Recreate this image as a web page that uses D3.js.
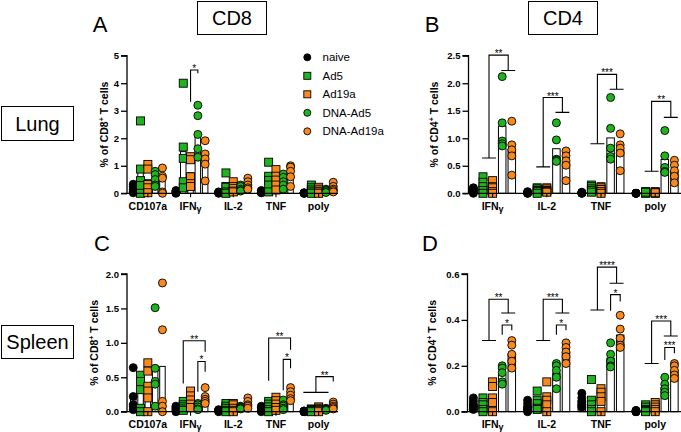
<!DOCTYPE html>
<html><head><meta charset="utf-8">
<script src="https://cdn.jsdelivr.net/npm/d3@7"></script>
<style>
body{margin:0;background:#fff;}
svg{display:block;font-family:Arial,"Liberation Sans",sans-serif;}
</style></head>
<body>
<script>
const groups = ["naive","Ad5","Ad19a","DNA-Ad5","DNA-Ad19a"];
const catsCD8 = ["CD107a","IFNγ","IL-2","TNF","poly"];
const catsCD4 = ["IFNγ","IL-2","TNF","poly"];

const ticksLungCD8 = [0,1,2,3,4,5];
const ticksLungCD4 = [0,0.5,1.0,1.5,2.0,2.5];
const ticksSpleenCD8 = [0,0.5,1.0,1.5,2.0];
const ticksSpleenCD4 = [0,0.2,0.4,0.6];

// values per category, per group (naive, Ad5, Ad19a, DNA-Ad5, DNA-Ad19a)
const lungCD8 = [
 [[0.02,0.08,0.15,0.25,0.33],[2.63,0.88,0.46,0.28,0.0],[1.05,0.88,0.32,0.2,0.02],[0.8,0.68,0.5,0.3,0.25],[0.92,0.62,0.55,0.05,0.0]],
 [[0.0,0.02,0.05,0.08,0.1],[4.0,1.68,1.27,0.42,0.2],[1.33,1.22,0.6,0.35,0.25],[3.2,2.82,2.14,1.62,1.31],[1.91,1.43,1.25,1.06,0.45]],
 [[0.0,0.02,0.03,0.05,0.04],[0.74,0.25,0.22,0.05,0.0],[0.42,0.25,0.18,0.08,0.05],[0.3,0.25,0.15,0.1,0.08],[0.55,0.42,0.3,0.2,0.15]],
 [[0.02,0.05,0.08,0.1,0.03],[1.13,0.62,0.47,0.3,0.05],[0.86,0.62,0.48,0.3,0.12],[0.7,0.58,0.42,0.3,0.15],[1.0,0.95,0.8,0.6,0.25]],
 [[0.0,0.01,0.02,0.0,0.01],[0.3,0.2,0.12,0.05,0.0],[0.22,0.15,0.08,0.05,0.0],[0.15,0.12,0.1,0.05,0.03],[0.4,0.25,0.15,0.1,0.05]]
];
const lungCD4 = [
 [[0.0,0.02,0.05,0.08,0.1],[0.3,0.2,0.12,0.05,0.0],[0.23,0.12,0.1,0.03,0.0],[2.12,1.28,0.95,0.9,0.86],[1.31,0.88,0.79,0.68,0.33]],
 [[0.0,0.01,0.02,0.0,0.03],[0.1,0.08,0.05,0.03,0.0],[0.1,0.08,0.05,0.03,0.02],[1.28,0.97,0.62,0.6,0.58],[0.77,0.68,0.59,0.51,0.23]],
 [[0.0,0.01,0.02,0.01,0.0],[0.15,0.12,0.08,0.05,0.02],[0.12,0.1,0.07,0.03,0.0],[1.74,1.18,0.82,0.67,0.62],[1.08,0.88,0.82,0.73,0.41]],
 [[0,0,0,0,0],[0.03,0.02,0.01,0.0,0.02],[0.03,0.02,0.01,0.0,0.01],[1.14,0.68,0.47,0.4,0.38],[0.6,0.51,0.41,0.31,0.19]]
];
const spleenCD8 = [
 [[0.64,0.22,0.1,0.08,0.03],[0.53,0.44,0.32,0.05,0.0],[0.71,0.59,0.37,0.3,0.2,0.0],[1.51,0.63,0.44,0.4,0.08],[1.87,1.19,0.15,0.08,0.0]],
 [[0.08,0.06,0.04,0.02,0.0],[0.15,0.1,0.07,0.04,0.02],[0.3,0.23,0.17,0.11,0.06],[0.12,0.1,0.07,0.04,0.03],[0.35,0.22,0.18,0.15,0.12]],
 [[0.0,0.02,0.03,0.01,0.02],[0.12,0.08,0.05,0.02,0.0],[0.12,0.1,0.05,0.02,0.0],[0.08,0.07,0.06,0.05,0.04],[0.2,0.15,0.1,0.08,0.05]],
 [[0.08,0.06,0.04,0.02,0.0],[0.15,0.11,0.07,0.03,0.0],[0.21,0.16,0.11,0.06,0.02],[0.17,0.1,0.08,0.05,0.03],[0.35,0.29,0.24,0.19,0.16]],
 [[0.0,0.0,0.01,0.0,0.01],[0.04,0.03,0.02,0.01,0.0],[0.07,0.05,0.03,0.02,0.0],[0.05,0.04,0.03,0.03,0.02],[0.14,0.11,0.08,0.06,0.04]]
];
const spleenCD4 = [
 [[0.06,0.045,0.03,0.02,0.01],[0.06,0.04,0.03,0.01,0.0],[0.13,0.11,0.06,0.04,0.0],[0.2,0.19,0.17,0.13,0.12],[0.31,0.29,0.25,0.22,0.19]],
 [[0.05,0.035,0.02,0.01,0.0],[0.09,0.05,0.035,0.015,0.01],[0.13,0.065,0.05,0.03,0.0],[0.21,0.2,0.18,0.15,0.1],[0.3,0.28,0.26,0.24,0.21]],
 [[0.08,0.06,0.045,0.03,0.02],[0.14,0.05,0.03,0.01,0.0],[0.1,0.085,0.065,0.045,0.0],[0.3,0.25,0.22,0.2,0.195],[0.42,0.36,0.32,0.29,0.28]],
 [[0.0,0.005,0.0,0.005,0.0],[0.03,0.02,0.01,0.005,0.0],[0.04,0.03,0.02,0.01,0.0],[0.15,0.12,0.1,0.085,0.07],[0.21,0.2,0.18,0.16,0.145]]
];

// significance brackets (levels in data units)
const DNA = ["DNA-Ad5","DNA-Ad19a"], AD = ["Ad5","Ad19a"];
const sigLungCD8 = [
 {cat:"IFNγ", left:["Ad19a"], right:["DNA-Ad5"], top:4.48, l:3.33, r:4.36, label:"*"}
];
const sigLungCD4 = [
 {cat:"IFNγ", left:AD, right:DNA, top:2.51, l:0.64, r:2.23, label:"**"},
 {cat:"IL-2", left:AD, right:DNA, top:1.74, l:0.48, r:1.47, label:"***"},
 {cat:"TNF",  left:AD, right:DNA, top:2.16, l:0.9,  r:1.89, label:"***"},
 {cat:"poly", left:AD, right:DNA, top:1.67, l:0.4,  r:1.38, label:"**"}
];
const sigSpleenCD8 = [
 {cat:"IFNγ", left:["Ad5"], right:["DNA-Ad19a"], top:1.03, l:0.41, r:0.87, label:"**"},
 {cat:"IFNγ", left:["DNA-Ad5"], right:["DNA-Ad19a"], top:0.73, l:0.29, r:0.58, label:"*"},
 {cat:"TNF",  left:["Ad5"], right:["DNA-Ad19a"], top:1.07, l:0.45, r:0.9, label:"**"},
 {cat:"TNF",  left:["DNA-Ad5"], right:["DNA-Ad19a"], top:0.76, l:0.31, r:0.63, label:"*"},
 {cat:"poly", left:["naive","DNA-Ad5"], right:["DNA-Ad19a"], top:0.51, l:0.28, r:0.44, label:"**"}
];
const sigSpleenCD4 = [
 {cat:"IFNγ", left:AD, right:DNA, top:0.49, l:0.31, r:0.43, label:"**"},
 {cat:"IFNγ", left:["DNA-Ad5"], right:["DNA-Ad19a"], top:0.378, l:0.335, r:0.355, label:"*"},
 {cat:"IL-2", left:AD, right:DNA, top:0.49, l:0.31, r:0.43, label:"***"},
 {cat:"IL-2", left:["DNA-Ad5"], right:["DNA-Ad19a"], top:0.378, l:0.335, r:0.355, label:"*"},
 {cat:"TNF",  left:AD, right:DNA, top:0.63, l:0.443, r:0.56, label:"****"},
 {cat:"TNF",  left:["DNA-Ad5"], right:["DNA-Ad19a"], top:0.51, l:0.44, r:0.48, label:"*"},
 {cat:"poly", left:AD, right:DNA, top:0.395, l:0.21, r:0.33, label:"***"},
 {cat:"poly", left:["DNA-Ad5"], right:["DNA-Ad19a"], top:0.28, l:0.225, r:0.255, label:"***"}
];

const GREEN = "#1fb31f", ORANGE = "#f7891f";
const style = {
 "naive":     {shape:"circle", fill:"#000"},
 "Ad5":       {shape:"square", fill:GREEN},
 "Ad19a":     {shape:"square", fill:ORANGE},
 "DNA-Ad5":   {shape:"circle", fill:GREEN},
 "DNA-Ad19a": {shape:"circle", fill:ORANGE}
};

const svg = d3.select("body").append("svg").attr("width",681).attr("height",432);

function drawMarker(sel, g, cx, cy, size){
  const s = style[g];
  if (s.shape === "circle") {
    sel.append("circle").attr("cx",cx).attr("cy",cy).attr("r",size/2)
      .attr("fill",s.fill).attr("stroke","#000").attr("stroke-width",0.9);
  } else {
    sel.append("rect").attr("x",cx-size/2).attr("y",cy-size/2).attr("width",size).attr("height",size)
      .attr("fill",s.fill).attr("stroke","#000").attr("stroke-width",0.9);
  }
}

function panel(cfg, cats, data, ticks, fmt, sigs, cell){
  const g = svg.append("g");
  const x = d3.scaleBand().domain(cats).range([cfg.x0, cfg.x1]);
  const gx = d3.scalePoint().domain(groups).range([-2*cfg.step, 2*cfg.step]);
  const y = d3.scaleLinear().domain([ticks[0], ticks[ticks.length-1]]).range([cfg.yb, cfg.yt]);
  const cx = (c, gr) => x(c) + x.bandwidth()/2 + gx(gr);

  // bars (means)
  cats.forEach((c, ci) => groups.forEach((gr, gi) => {
    const vals = data[ci][gi];
    const m = d3.mean(vals);
    g.append("rect").attr("x", cx(c,gr) - cfg.barW/2).attr("y", y(m))
      .attr("width", cfg.barW).attr("height", Math.max(0, y(0) - y(m)))
      .attr("fill","#fff").attr("stroke","#000").attr("stroke-width",1);
  }));
  // points
  cats.forEach((c, ci) => groups.forEach((gr, gi) => {
    data[ci][gi].forEach(v => drawMarker(g, gr, cx(c,gr), y(v), 8));
  }));

  // y axis
  const ya = g.append("g").attr("transform",`translate(${cfg.axisX},0)`)
    .call(d3.axisLeft(y).tickValues(ticks).tickFormat(fmt).tickSize(6).tickPadding(2));
  ya.select(".domain").attr("stroke","#000").attr("stroke-width",1.3).attr("d",`M-6,${cfg.yt}H0V${cfg.yb}H-6`);
  ya.selectAll(".tick line").attr("stroke","#000").attr("stroke-width",1.3);
  ya.selectAll("text").attr("font-size",9.5).attr("font-weight","bold").attr("fill","#000")
    .attr("font-family","Arial, 'Liberation Sans', sans-serif");

  // x axis
  const xa = g.append("g").attr("transform",`translate(0,${cfg.yb})`)
    .call(d3.axisBottom(x).tickSize(4).tickPadding(5));
  xa.select(".domain").remove();
  xa.append("line").attr("x1",cfg.axisX).attr("x2",cfg.axisEnd).attr("y1",0).attr("y2",0)
    .attr("stroke","#000").attr("stroke-width",1.3);
  xa.selectAll(".tick line").attr("stroke","#000").attr("stroke-width",1.1);
  xa.selectAll(".tick text").each(function(d){
    const t = d3.select(this).text("");
    t.attr("font-size",10.5).attr("font-weight","bold").attr("fill","#000")
     .attr("font-family","Arial, 'Liberation Sans', sans-serif");
    if (d === "IFNγ") {
      t.append("tspan").text("IFN");
      t.append("tspan").text("γ").attr("font-size",9).attr("dy",2);
    } else t.text(d);
  });

  // y title
  const tt = g.append("text").attr("transform",`translate(${cfg.titleX},${(cfg.yt+cfg.yb)/2}) rotate(-90)`)
    .attr("text-anchor","middle").attr("font-size",10.5).attr("font-weight","bold").attr("fill","#000");
  tt.append("tspan").text("% of " + cell);
  tt.append("tspan").text("+").attr("font-size",7).attr("dy",-4);
  tt.append("tspan").text(" T cells").attr("dy",4);

  // significance brackets
  const sx = cfg.step;
  function side(gs, level){
    if (gs.length === 1) return {x: null, g: gs[0]};
    return {gs, level};
  }
  sigs.forEach(s => {
    const c = s.cat;
    const path = d3.path();
    let xl, xr;
    if (s.left.length > 1) {
      const a = cx(c, s.left[0]) - 0.1*sx, b = cx(c, s.left[1]) + 0.35*sx;
      path.moveTo(a, y(s.l)); path.lineTo(b, y(s.l));
      xl = (a+b)/2;
    } else xl = cx(c, s.left[0]);
    if (s.right.length > 1) {
      const a = cx(c, s.right[0]) - 0.1*sx, b = cx(c, s.right[1]) + 0.35*sx;
      path.moveTo(a, y(s.r)); path.lineTo(b, y(s.r));
      xr = (a+b)/2;
    } else xr = cx(c, s.right[0]);
    path.moveTo(xl, y(s.l)); path.lineTo(xl, y(s.top)); path.lineTo(xr, y(s.top)); path.lineTo(xr, y(s.r));
    g.append("path").attr("d", path.toString()).attr("fill","none").attr("stroke","#000").attr("stroke-width",1.1);
    g.append("text").attr("x",(xl+xr)/2).attr("y",y(s.top)+2).attr("text-anchor","middle")
      .attr("font-size",10).attr("fill","#000").text(s.label);
  });
}

const f0 = d3.format("d"), f1 = d3.format(".1f");
panel({x0:126.5, x1:340, axisX:127, axisEnd:338, yb:193.3, yt:55.7, step:7.3, barW:5.5, titleX:108},
      catsCD8, lungCD8, ticksLungCD8, f0, sigLungCD8, "CD8");
panel({x0:465.5, x1:682.3, axisX:468.5, axisEnd:681, yb:193.3, yt:55.7, step:9.6, barW:7.5, titleX:438},
      catsCD4, lungCD4, ticksLungCD4, f1, sigLungCD4, "CD4");
panel({x0:126.5, x1:340, axisX:127, axisEnd:338, yb:411.7, yt:274, step:7.3, barW:5.5, titleX:98},
      catsCD8, spleenCD8, ticksSpleenCD8, f1, sigSpleenCD8, "CD8");
panel({x0:465.5, x1:682.3, axisX:467.5, axisEnd:681, yb:411.7, yt:274, step:9.6, barW:7.5, titleX:436},
      catsCD4, spleenCD4, ticksSpleenCD4, f1, sigSpleenCD4, "CD4");

// legend
const leg = svg.append("g");
groups.forEach((gr, i) => {
  const yy = 57.3 + i*18.5;
  drawMarker(leg, gr, 307.3, yy, 7);
  leg.append("text").attr("x",322.5).attr("y",yy+4).attr("font-size",11.5).attr("fill","#000").text(gr);
});

// panel letters
[["A",100,24],["B",432,24],["C",102,243],["D",430,243]].forEach(([t,xx,yy]) => {
  svg.append("text").attr("x",xx).attr("y",yy+8).attr("text-anchor","middle")
    .attr("font-size",22).attr("fill","#000").text(t);
});

// boxed labels
function boxLabel(t, x, yTop, w, h){
  svg.append("rect").attr("x",x).attr("y",yTop).attr("width",w).attr("height",h)
    .attr("fill","none").attr("stroke","#000").attr("stroke-width",1);
  svg.append("text").attr("x",x+w/2).attr("y",yTop+h/2+7).attr("text-anchor","middle")
    .attr("font-size",20).attr("fill","#000").text(t);
}
boxLabel("CD8", 197.5, 1.5, 69, 33);
boxLabel("CD4", 528.5, 1.5, 69, 33);
boxLabel("Lung", 1.5, 106.5, 72, 34);
boxLabel("Spleen", 1.5, 325.5, 72, 33);
</script>
</body></html>
